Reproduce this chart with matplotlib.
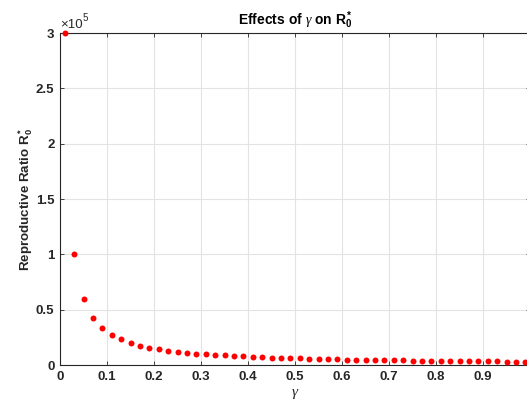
import matplotlib
matplotlib.use("Agg")
import matplotlib.pyplot as plt
from matplotlib.ticker import FuncFormatter

# gamma values and R0*
gamma = [0.01, 0.03, 0.05, 0.07, 0.09, 0.11, 0.13, 0.15, 0.17, 0.19,
         0.21, 0.23, 0.25, 0.27, 0.29, 0.31, 0.33, 0.35, 0.37, 0.39,
         0.41, 0.43, 0.45, 0.47, 0.49, 0.51, 0.53, 0.55, 0.57, 0.59,
         0.61, 0.63, 0.65, 0.67, 0.69, 0.71, 0.73, 0.75, 0.77, 0.79,
         0.81, 0.83, 0.85, 0.87, 0.89, 0.91, 0.93, 0.95, 0.97, 0.99]
r0 = [300000, 100000, 60000, 42900, 33300, 27300, 23100, 20000, 17600, 15800,
      14300, 13000, 12000, 11100, 10300, 9700, 9100, 8600, 8100, 7700,
      7300, 7000, 6700, 6400, 6100, 5900, 5700, 5500, 5300, 5100,
      4900, 4800, 4600, 4500, 4350, 4200, 4100, 4000, 3900, 3800,
      3700, 3600, 3500, 3450, 3370, 3300, 3230, 3160, 3090, 3030]
xticks = [0, 0.1, 0.2, 0.3, 0.4, 0.5, 0.6, 0.7, 0.8, 0.9, 1.0]
yticks = [0, 50000, 100000, 150000, 200000, 250000, 300000]

plt.rcParams['font.family'] = ['Liberation Sans', 'DejaVu Sans']
plt.rcParams['mathtext.fontset'] = 'custom'
plt.rcParams['mathtext.rm'] = 'Liberation Sans:bold'
plt.rcParams['mathtext.bf'] = 'Liberation Sans:bold'
plt.rcParams['mathtext.it'] = 'Liberation Serif:italic'

dark = '#262626'
fig = plt.figure(figsize=(5.27, 4.04), dpi=100)
ax = fig.add_axes([60 / 527, 39 / 404, 470 / 527, 332 / 404])

ax.plot(gamma, r0, 'o', color='red', markersize=4.3, markeredgewidth=0, clip_on=False, zorder=3)

ax.set_xlim(0, 1)
ax.set_ylim(0, 300000)
ax.set_xticks(xticks)
ax.set_yticks(yticks)
ax.xaxis.set_major_formatter(FuncFormatter(lambda v, p: '%g' % v))
ax.yaxis.set_major_formatter(FuncFormatter(lambda v, p: '%g' % (v / 1e5)))
ax.grid(True, color='#e3e3e3', linewidth=0.8)
ax.set_axisbelow(True)
for s in ax.spines.values():
    s.set_color(dark)
    s.set_linewidth(0.8)
ax.tick_params(direction='in', length=3, width=0.6, colors=dark, labelsize=9.5,
               top=True, right=True, pad=4)
for lab in ax.get_xticklabels() + ax.get_yticklabels():
    lab.set_fontweight('bold')

# exponent label, regular weight like the original
ax.text(0, 1.005, '×10', transform=ax.transAxes, fontsize=9.5,
        color=dark, ha='left', va='bottom', fontweight='normal')
ax.text(0.047, 1.03, '5', transform=ax.transAxes, fontsize=7,
        color=dark, ha='left', va='bottom', fontweight='normal')
ax.set_title(r'Effects of $\gamma$ on R$_0^*$', fontsize=10, fontweight='bold',
             color='black', pad=6)
ax.set_xlabel(r'$\gamma$', fontsize=11, color=dark, labelpad=3)
ax.set_ylabel(r'Reproductive Ratio R$_0^*$', fontsize=9.6, fontweight='bold',
              color=dark, labelpad=1)

fig.savefig("out.png", dpi=100)
